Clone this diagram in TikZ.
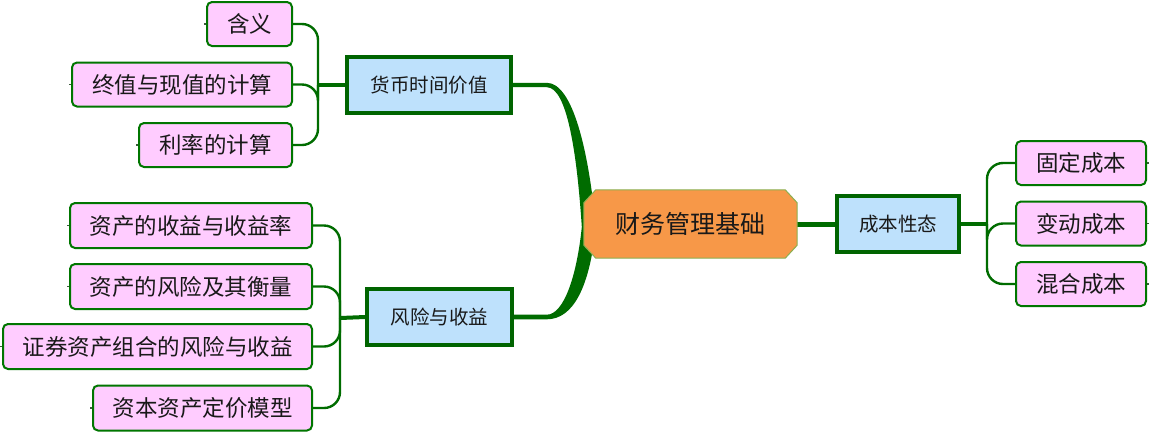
\documentclass[tikz,border=0pt]{standalone}
\usepackage{fontspec}
\newfontfamily\cjk{Noto Sans CJK SC}
\usetikzlibrary{backgrounds,calc}
\definecolor{leaffill}{RGB}{255,204,255}
\definecolor{leafline}{RGB}{0,118,0}
\definecolor{branchfill}{RGB}{190,225,252}
\definecolor{branchline}{RGB}{0,100,0}
\definecolor{linkgreen}{RGB}{0,108,0}
\definecolor{rootfill}{RGB}{247,152,72}
\definecolor{rootline}{RGB}{140,175,80}
\definecolor{txt}{RGB}{25,25,25}
\definecolor{stubcol}{RGB}{60,90,60}
\begin{document}
\begin{tikzpicture}[x=1pt,y=-1pt,
  leaf/.style={draw=leafline, fill=leaffill, line width=2pt, rounded corners=5pt,
    minimum height=44pt, inner sep=0pt, text=txt, font=\cjk\fontsize{22.5}{27}\selectfont},
  branch/.style={draw=branchline, fill=branchfill, line width=3.5pt, minimum height=56pt,
    inner sep=0pt, text=txt, font=\cjk\fontsize{19.5}{24}\selectfont},
  rootnode/.style={inner sep=0pt, minimum width=213pt, minimum height=68pt, text=txt,
    font=\cjk\fontsize{25}{30}\selectfont},
  link/.style={draw=linkgreen, line width=2.4pt, rounded corners=16pt},
  hub/.style={draw=linkgreen, line width=4pt},
  stub/.style={draw=stubcol, line width=1.2pt}]
\useasboundingbox (0,0) rectangle (1150,432);

% root
\node[rootnode] (c) at (690.5,224) {财务管理基础};

% branches
\node[branch, minimum width=164pt] (b1) at (429,85) {货币时间价值};
\node[branch, minimum width=145pt] (b2) at (439.5,317) {风险与收益};
\node[branch, minimum width=122pt] (b3) at (898,224) {成本性态};

% leaves of b1
\node[leaf, minimum width=85pt]  (a1) at (249.5,24)  {含义};
\node[leaf, minimum width=220pt] (a2) at (182,84.5)  {终值与现值的计算};
\node[leaf, minimum width=153pt] (a3) at (215.5,145) {利率的计算};

% leaves of b2
\node[leaf, minimum width=242pt, minimum height=45pt] (d1) at (191,225.5)   {资产的收益与收益率};
\node[leaf, minimum width=242pt, minimum height=45pt] (d2) at (191,286.5)   {资产的风险及其衡量};
\node[leaf, minimum width=309pt, minimum height=45pt] (d3) at (157.5,346.5) {证券资产组合的风险与收益};
\node[leaf, minimum width=219pt, minimum height=45pt] (d4) at (202.5,408)   {资本资产定价模型};

% leaves of b3
\node[leaf, minimum width=130pt] (e1) at (1081,163)   {固定成本};
\node[leaf, minimum width=130pt] (e2) at (1081,223.5) {变动成本};
\node[leaf, minimum width=130pt] (e3) at (1081,284)   {混合成本};

\coordinate (j1) at (318,85);
\coordinate (j2) at (340,318);
\coordinate (j3) at (987,224);

\begin{pgfonlayer}{background}
  \fill[white] (0,0) rectangle (1150,432);
  % tapered main connectors
  \fill[linkgreen] ([yshift=2.2pt]b1.east) -- ($(b1.east)+(34,-2.2)$)
    .. controls ($(b1.east)+(60,-2.2)$) and ($(c.west)+(5,-73)$) .. ($(c.west)+(12,3)$)
    -- ($(c.west)+(-2,3)$)
    .. controls ($(c.west)+(-7,-73)$) and ($(b1.east)+(54,2.2)$) .. ($(b1.east)+(34,2.2)$)
    -- ([yshift=-2.2pt]b1.east) -- cycle;
  \fill[linkgreen] ([yshift=-2.3pt]b2.east) -- ($(b2.east)+(33,2.3)$)
    .. controls ($(b2.east)+(60,2.3)$) and ($(c.west)+(6,62)$) .. ($(c.west)+(12,3)$)
    -- ($(c.west)+(-2,3)$)
    .. controls ($(c.west)+(-7,52)$) and ($(b2.east)+(50,-2.3)$) .. ($(b2.east)+(33,-2.3)$)
    -- ([yshift=2.3pt]b2.east) -- cycle;
  \draw[hub, line width=5pt] (c.east) -- (b3.west);

  % root octagon
  \filldraw[fill=rootfill, draw=rootline, line width=1pt]
    ([xshift=12pt]c.north west) -- ([xshift=-12pt]c.north east)
    -- ([yshift=-13pt]c.north east) -- ([yshift=13pt]c.south east)
    -- ([xshift=-12pt]c.south east) -- ([xshift=12pt]c.south west)
    -- ([yshift=13pt]c.south west) -- ([yshift=-13pt]c.north west) -- cycle;

  % sub connectors
  \draw[hub] (b1.west) -- (j1);
  \draw[link] (j1) |- (a1.east);
  \draw[link] (j1) |- (a2.east);
  \draw[link] (j1) |- (a3.east);

  \draw[hub] (b2.west) -- (j2);
  \draw[link] (j2) |- (d1.east);
  \draw[link] (j2) |- (d2.east);
  \draw[link] (j2) |- (d3.east);
  \draw[link] (j2) |- (d4.east);

  \draw[hub] (b3.east) -- (j3);
  \draw[link] (j3) |- (e1.west);
  \draw[link] (j3) |- (e2.west);
  \draw[link] (j3) |- (e3.west);

  % small stubs
  \foreach \n in {a1,a2,a3,d1,d2,d3,d4} \draw[stub] (\n.west) -- ++(-2,0);
  \foreach \n in {e1,e2,e3} \draw[stub] (\n.east) -- ++(2,0);
\end{pgfonlayer}
\end{tikzpicture}
\end{document}
